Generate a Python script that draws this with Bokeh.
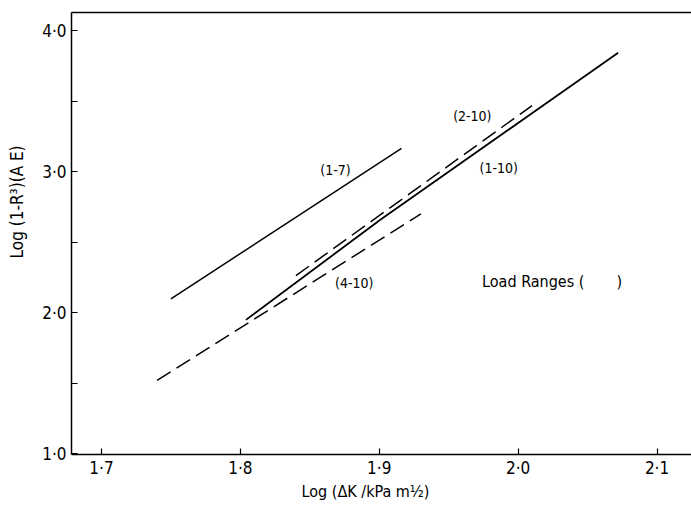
from bokeh.plotting import figure
from bokeh.models import Range1d, FixedTicker, LinearAxis, Label
from bokeh.embed import file_html
from bokeh.resources import INLINE

# ---- data ----
x_ticks = [1.7, 1.8, 1.9, 2.0, 2.1]
x_tick_labels = ["1·7", "1·8", "1·9", "2·0", "2·1"]
y_ticks = [1.0, 2.0, 3.0, 4.0]
y_tick_labels = ["1·0", "2·0", "3·0", "4·0"]
y_minor_ticks = [1.5, 2.5, 3.5]

# Load range (1-7), solid
r17_x = [1.750, 1.916]
r17_y = [2.097, 3.165]
# Load range (1-10), solid
r110_x = [1.804, 1.901, 2.072]
r110_y = [1.948, 2.660, 3.842]
# Load range (2-10), dashed
r210_x = [1.840, 2.010]
r210_y = [2.262, 3.468]
# Load range (4-10), dashed
r410_x = [1.740, 1.930]
r410_y = [1.518, 2.700]

series_labels = ["(1-7)", "(1-10)", "(2-10)", "(4-10)"]
label_x = [1.8685, 1.986, 1.967, 1.882]
label_y = [3.014, 3.028, 3.397, 2.206]

NB = "\u00a0"
x_title = "Log (ΔK /kPa m½)"
y_title = "Log (1-R³)(A E)"
legend_text = "Load Ranges (" + NB * 7 + ")"

FONT = "DejaVu Sans Condensed, Liberation Sans Narrow, DejaVu Sans, sans-serif"

p = figure(width=691, height=505, output_backend="svg", toolbar_location=None,
           x_range=Range1d(1.6784, 2.1248), y_range=Range1d(0.993, 4.128),
           min_border_left=71, min_border_right=0, min_border_top=12,
           min_border_bottom=51,
           x_axis_label=x_title + NB * 7,
           y_axis_label=NB * 13 + y_title)
p.outline_line_color = None
p.grid.visible = False
p.background_fill_color = "white"
p.border_fill_color = "white"

# x axis
xa = p.xaxis[0]
xa.ticker = FixedTicker(ticks=x_ticks, minor_ticks=[])
xa.major_label_overrides = dict(zip(x_ticks, x_tick_labels))
xa.major_tick_in = 6
xa.major_tick_out = 0
xa.minor_tick_in = 0
xa.minor_tick_out = 0
xa.axis_line_width = 1.5
xa.major_tick_line_width = 1.2
xa.major_label_text_font = FONT
xa.major_label_text_font_size = "17px"
xa.major_label_text_color = "black"
xa.major_label_standoff = 3
xa.axis_label_text_font = FONT
xa.axis_label_text_font_size = "16px"
xa.axis_label_text_font_style = "normal"
xa.axis_label_text_color = "black"
xa.axis_label_standoff = 1

# y axis
ya = p.yaxis[0]
ya.ticker = FixedTicker(ticks=y_ticks, minor_ticks=y_minor_ticks)
ya.major_label_overrides = dict(zip(y_ticks, y_tick_labels))
ya.major_tick_in = 6
ya.major_tick_out = 0
ya.minor_tick_in = 6
ya.minor_tick_out = 0
ya.axis_line_width = 1.5
ya.major_tick_line_width = 1.2
ya.minor_tick_line_width = 1.2
ya.major_label_text_font = FONT
ya.major_label_text_font_size = "17px"
ya.major_label_text_color = "black"
ya.major_label_standoff = 5
ya.axis_label_text_font = FONT
ya.axis_label_text_font_size = "17px"
ya.axis_label_text_font_style = "normal"
ya.axis_label_text_color = "black"
ya.axis_label_standoff = 12

# top frame line
top = LinearAxis(ticker=FixedTicker(ticks=[]), major_tick_in=0, major_tick_out=0,
                 minor_tick_in=0, minor_tick_out=0, major_label_text_font_size="0px",
                 major_label_standoff=0, axis_line_width=1.5)
p.add_layout(top, "above")

# lines
p.line(r17_x, r17_y, line_color="black", line_width=1.5)
p.line(r110_x, r110_y, line_color="black", line_width=1.8)
p.line(r210_x, r210_y, line_color="black", line_width=1.5, line_dash="16 7")
p.line(r410_x, r410_y, line_color="black", line_width=1.5, line_dash="16 7")

# series labels
for t, lx, ly in zip(series_labels, label_x, label_y):
    p.add_layout(Label(x=lx, y=ly, text=t, text_font=FONT, text_font_size="14px",
                       text_align="center", text_baseline="middle", text_color="black"))

p.add_layout(Label(x=1.974, y=2.22, text=legend_text, text_font=FONT,
                   text_font_size="16px", text_align="left", text_baseline="middle",
                   text_color="black"))

open("out.html", "w").write(file_html(p, INLINE))
